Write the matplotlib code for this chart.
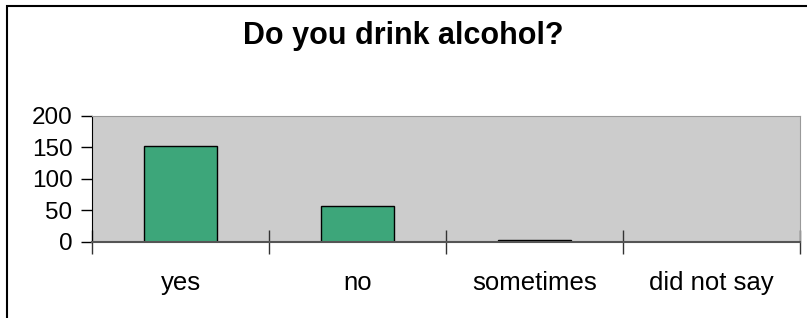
import matplotlib.pyplot as plt
import numpy as np
from matplotlib.patches import Rectangle

plt.rcParams['font.family'] = ['Liberation Sans', 'DejaVu Sans']

# data
categories = ['yes', 'no', 'sometimes', 'did not say']
counts = [153, 57, 3, 0]
y_ticks = [0, 50, 100, 150, 200]

W, H = 807, 318
fig = plt.figure(figsize=(W / 100, H / 100), dpi=100)

# outer chart border (right/bottom edges run off the image)
fig.patches.append(Rectangle((7 / W, -0.05), 1.1, 1 - 6 / H + 0.05,
                             transform=fig.transFigure, fill=False,
                             edgecolor='black', linewidth=1.5))

ax = fig.add_axes([92 / W, (H - 241.7) / H, (800 - 92) / W, (241.7 - 116) / H])
ax.set_facecolor('#cccccc')

x = np.arange(len(categories))
ax.bar(x, counts, width=0.41, color='#3da67a', edgecolor='black', linewidth=1)

ax.set_xlim(-0.5, len(categories) - 0.5)
ax.set_ylim(0, 200)
ax.set_yticks(y_ticks)
ax.set_yticklabels([str(v) for v in y_ticks], fontsize=17.5)

# category boundaries get the ticks, labels sit at centres
ax.set_xticks(np.arange(len(categories) + 1) - 0.5)
ax.set_xticklabels([])
ax.set_xticks(x, minor=True)
ax.set_xticklabels(categories, minor=True, fontsize=18.5)
ax.tick_params(axis='x', which='minor', length=0, pad=21)
ax.tick_params(axis='x', which='major', direction='inout', length=17, width=1, color='#333333')
ax.tick_params(axis='y', direction='out', length=8, width=1, pad=6)

ax.spines['left'].set_color('black')
ax.spines['bottom'].set_color('#555555')
ax.spines['bottom'].set_linewidth(1.5)
ax.spines['top'].set_color('#999999')
ax.spines['right'].set_color('#999999')

fig.text(403 / W, 1 - 44.3 / H, 'Do you drink alcohol?', ha='center', va='baseline',
         fontsize=22, fontweight='bold')

fig.savefig('out.png', dpi=100)
